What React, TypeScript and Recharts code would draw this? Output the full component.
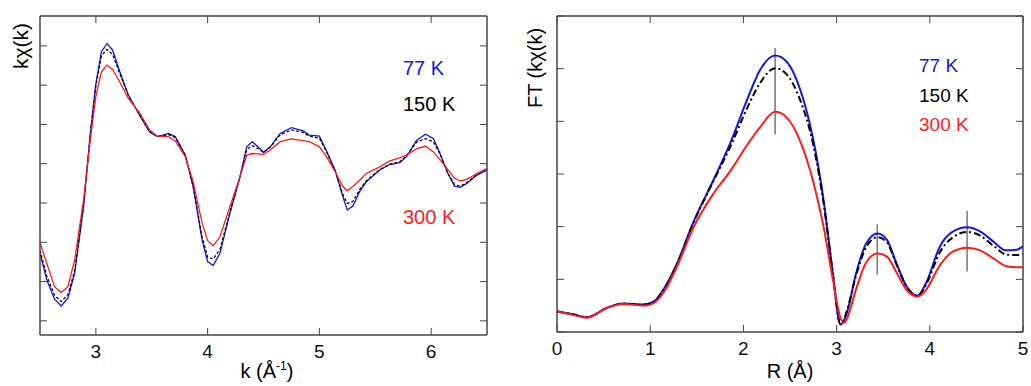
import React from 'react';
import { LineChart, Line, XAxis, YAxis, ReferenceLine } from 'recharts';

// k-space EXAFS, k (1/Å)
const kGrid = [
  2.5, 2.56, 2.63, 2.69, 2.75, 2.81, 2.89, 2.95, 3.0, 3.05, 3.1, 3.15, 3.21, 3.29, 3.39, 3.48, 3.55, 3.65,
  3.71, 3.8, 3.87, 3.95, 4.0, 4.05, 4.11, 4.2, 4.29, 4.35, 4.4, 4.45, 4.5, 4.56, 4.65, 4.75, 4.85, 4.91,
  5.0, 5.06, 5.14, 5.21, 5.25, 5.3, 5.36, 5.42, 5.54, 5.63, 5.72, 5.78, 5.87, 5.95, 6.02, 6.08, 6.15,
  6.21, 6.26, 6.32, 6.41, 6.5,
];
const chi77 = [
  -2.28, -2.95, -3.45, -3.62, -3.42, -2.79, -1.09, 0.77, 2.04, 2.85, 3.06, 2.89, 2.38, 1.75, 1.24, 0.81,
  0.69, 0.77, 0.69, 0.22, -0.58, -1.94, -2.49, -2.59, -2.28, -1.26, -0.33, 0.43, 0.56, 0.43, 0.29, 0.43,
  0.77, 0.92, 0.84, 0.73, 0.7, 0.35, -0.16, -0.84, -1.18, -1.08, -0.71, -0.46, -0.16, -0.02, 0.03, 0.18,
  0.6, 0.75, 0.64, 0.26, -0.25, -0.57, -0.6, -0.5, -0.29, -0.16,
];
const chi150 = [
  -2.2, -2.85, -3.35, -3.51, -3.33, -2.72, -1.05, 0.74, 1.98, 2.75, 2.91, 2.78, 2.32, 1.74, 1.25, 0.82,
  0.69, 0.74, 0.67, 0.21, -0.56, -1.85, -2.38, -2.43, -2.18, -1.22, -0.33, 0.36, 0.46, 0.38, 0.29, 0.42,
  0.74, 0.86, 0.8, 0.7, 0.65, 0.32, -0.17, -0.78, -1.01, -0.96, -0.66, -0.43, -0.15, -0.01, 0.05, 0.2,
  0.55, 0.64, 0.56, 0.24, -0.24, -0.53, -0.57, -0.48, -0.27, -0.15,
];
const chi300 = [
  -2.01, -2.53, -3.13, -3.28, -3.13, -2.45, -0.92, 0.6, 1.72, 2.34, 2.51, 2.4, 2.1, 1.66, 1.3, 0.86,
  0.7, 0.69, 0.58, 0.18, -0.46, -1.5, -1.96, -2.09, -1.86, -1.09, -0.33, 0.22, 0.26, 0.25, 0.24, 0.35,
  0.56, 0.63, 0.59, 0.56, 0.43, 0.2, -0.2, -0.58, -0.69, -0.58, -0.42, -0.25, -0.08, 0.07, 0.15, 0.22,
  0.38, 0.45, 0.3, 0.1, -0.15, -0.37, -0.44, -0.4, -0.25, -0.12,
];
const kTicks = [3, 4, 5, 6];
const chiTicks = [-4, -3, -2, -1, 0, 1, 2, 3];

// Fourier transform magnitude, R (Å)
const rGrid = [
  0, 0.16, 0.32, 0.54, 0.71, 0.93, 1.04, 1.14, 1.29, 1.46, 1.68, 1.86, 2.04, 2.18, 2.34, 2.46, 2.61, 2.75,
  2.86, 2.96, 3.04, 3.08, 3.11, 3.21, 3.32, 3.44, 3.54, 3.64, 3.75, 3.87, 3.96, 4.11, 4.25, 4.4, 4.54,
  4.68, 4.82, 4.93, 5.0,
];
const ft77 = [
  0.39, 0.34, 0.28, 0.46, 0.54, 0.52, 0.58, 0.8, 1.31, 2.07, 2.89, 3.59, 4.41, 4.98, 5.25, 5.14, 4.6,
  3.65, 2.51, 1.12, 0.14, 0.22, 0.36, 1.12, 1.69, 1.87, 1.75, 1.31, 0.87, 0.69, 0.93, 1.63, 1.91, 1.99,
  1.91, 1.72, 1.55, 1.56, 1.63,
];
const ft150 = [
  0.39, 0.34, 0.28, 0.46, 0.54, 0.52, 0.57, 0.79, 1.3, 2.06, 2.87, 3.52, 4.25, 4.73, 5.01, 4.9, 4.4,
  3.55, 2.45, 1.1, 0.16, 0.25, 0.4, 1.08, 1.62, 1.8, 1.7, 1.3, 0.86, 0.69, 0.9, 1.52, 1.8, 1.9, 1.83,
  1.64, 1.47, 1.46, 1.48,
];
const ft300 = [
  0.39, 0.33, 0.27, 0.46, 0.53, 0.5, 0.55, 0.74, 1.25, 1.97, 2.63, 3.06, 3.55, 3.89, 4.18, 4.08, 3.62,
  2.85, 2.0, 1.0, 0.28, 0.17, 0.25, 0.82, 1.33, 1.49, 1.43, 1.14, 0.8, 0.67, 0.8, 1.27, 1.53, 1.6, 1.55,
  1.4, 1.25, 1.23, 1.23,
];
const rTicks = [0, 1, 2, 3, 4, 5];
const ftTicks = [0, 1, 2, 3, 4, 5, 6];
// peak markers: R position, low and high ends
const markerR = [2.34, 3.435, 4.4];
const markerLow = [3.75, 1.09, 1.15];
const markerHigh = [5.39, 2.04, 2.3];

const kData = kGrid.map((k, i) => ({ k, a: chi77[i], b: chi150[i], c: chi300[i] }));
const rData = rGrid.map((r, i) => ({ r, a: ft77[i], b: ft150[i], c: ft300[i] }));

const FONT = '"Liberation Sans", Arial, Helvetica, sans-serif';
const FRAME = '#444';
const BLUE = '#1414e6';
const RED = '#ff1a1a';

const txt = (extra: React.CSSProperties): React.CSSProperties => ({
  position: 'absolute',
  fontFamily: FONT,
  whiteSpace: 'nowrap',
  lineHeight: 1,
  ...extra,
});

// tick marks only, no label text
const EmptyTick = () => <g />;

// labelled bottom axis plus four mirrored axes that draw the box and the inward ticks
const frameAxes = (xKey: string, xDomain: number[], xTicks: number[], yDomain: number[], yTicks: number[]) => [
  <XAxis
    key="xb"
    xAxisId="b"
    dataKey={xKey}
    type="number"
    domain={xDomain}
    ticks={xTicks}
    allowDataOverflow
    orientation="bottom"
    height={40}
    tickLine={false}
    axisLine={false}
    tickSize={6}
    tickMargin={4}
    fontSize={19}
    tick={{ fill: '#111', fontSize: 19, fontFamily: FONT }}
  />,
  <XAxis
    key="xbm"
    xAxisId="bm"
    dataKey={xKey}
    type="number"
    domain={xDomain}
    ticks={xTicks}
    allowDataOverflow
    orientation="bottom"
    mirror
    height={8}
    tickSize={7}
    tick={EmptyTick}
    tickLine={{ stroke: FRAME, strokeWidth: 1 }}
    stroke={FRAME}
    strokeWidth={1.5}
  />,
  <XAxis
    key="xt"
    xAxisId="t"
    dataKey={xKey}
    type="number"
    domain={xDomain}
    ticks={xTicks}
    allowDataOverflow
    orientation="top"
    mirror
    height={8}
    tickSize={7}
    tick={EmptyTick}
    tickLine={{ stroke: FRAME, strokeWidth: 1 }}
    stroke={FRAME}
    strokeWidth={1.5}
  />,
  <YAxis
    key="yl"
    yAxisId="l"
    type="number"
    domain={yDomain}
    ticks={yTicks}
    allowDataOverflow
    orientation="left"
    mirror
    width={8}
    tickSize={7}
    tick={EmptyTick}
    tickLine={{ stroke: FRAME, strokeWidth: 1 }}
    stroke={FRAME}
    strokeWidth={1.5}
  />,
  <YAxis
    key="yr"
    yAxisId="r"
    type="number"
    domain={yDomain}
    ticks={yTicks}
    allowDataOverflow
    orientation="right"
    mirror
    width={8}
    tickSize={7}
    tick={EmptyTick}
    tickLine={{ stroke: FRAME, strokeWidth: 1 }}
    stroke={FRAME}
    strokeWidth={1.5}
  />,
];

const KPanel = () => (
  <LineChart width={500} height={386} data={kData} margin={{ top: 16, right: 13, bottom: 11, left: 40 }}>
    {frameAxes('k', [2.5, 6.5], kTicks, [-4.36, 3.76], chiTicks)}
    <Line xAxisId="bm" yAxisId="r" type="linear" dataKey="a" stroke="none" dot={false} isAnimationActive={false} />
    <Line xAxisId="t" yAxisId="r" type="linear" dataKey="a" stroke="none" dot={false} isAnimationActive={false} />
    <Line xAxisId="b" yAxisId="l" type="linear" dataKey="a" stroke={BLUE} strokeWidth={1.3} dot={false} isAnimationActive={false} />
    <Line xAxisId="b" yAxisId="l" type="linear" dataKey="b" stroke="#000" strokeWidth={1.2} strokeDasharray="3 2" dot={false} isAnimationActive={false} />
    <Line xAxisId="b" yAxisId="l" type="linear" dataKey="c" stroke={RED} strokeWidth={1.3} dot={false} isAnimationActive={false} />
  </LineChart>
);

const RPanel = () => (
  <LineChart width={511} height={386} data={rData} margin={{ top: 16, right: 8, bottom: 14, left: 37 }}>
    {frameAxes('r', [0, 5], rTicks, [0, 6], ftTicks)}
    <Line xAxisId="bm" yAxisId="r" type="linear" dataKey="a" stroke="none" dot={false} isAnimationActive={false} />
    <Line xAxisId="t" yAxisId="r" type="linear" dataKey="a" stroke="none" dot={false} isAnimationActive={false} />
    {markerR.map((r, i) => (
      <ReferenceLine
        key={`m${i}`}
        xAxisId="b"
        yAxisId="l"
        segment={[{ x: r, y: markerLow[i] }, { x: r, y: markerHigh[i] }]}
        stroke="#333"
        strokeWidth={1}
      />
    ))}
    <Line xAxisId="b" yAxisId="l" type="monotone" dataKey="a" stroke={BLUE} strokeWidth={2} dot={false} isAnimationActive={false} />
    <Line xAxisId="b" yAxisId="l" type="monotone" dataKey="b" stroke="#000" strokeWidth={2} strokeDasharray="7 3 2 3" dot={false} isAnimationActive={false} />
    <Line xAxisId="b" yAxisId="l" type="monotone" dataKey="c" stroke={RED} strokeWidth={2} dot={false} isAnimationActive={false} />
  </LineChart>
);

export default function App() {
  return (
    <div style={{ position: 'absolute', left: 0, top: 0, width: 1031, height: 386, background: '#fff', overflow: 'hidden' }}>
      <div style={{ position: 'absolute', left: 0, top: 0 }}>
        <KPanel />
      </div>
      <div style={{ position: 'absolute', left: 520, top: 0 }}>
        <RPanel />
      </div>

      {/* axis titles */}
      <div style={txt({ left: 20, top: 46, fontSize: 21, transform: 'translate(-50%, -50%) rotate(-90deg)' })}>kχ(k)</div>
      <div style={txt({ left: 535, top: 68, fontSize: 20, transform: 'translate(-50%, -50%) rotate(-90deg)' })}>FT (kχ(k)</div>
      <div style={txt({ left: 267, top: 361, fontSize: 20, transform: 'translateX(-50%)' })}>
        k (Å<sup style={{ fontSize: 12, lineHeight: 0 }}>-1</sup>)
      </div>
      <div style={txt({ left: 790, top: 361, fontSize: 20, transform: 'translateX(-50%)' })}>R (Å)</div>

      {/* legends */}
      <div style={txt({ left: 403, top: 58, fontSize: 20, color: BLUE })}>77 K</div>
      <div style={txt({ left: 403, top: 94, fontSize: 20, color: '#000' })}>150 K</div>
      <div style={txt({ left: 403, top: 207, fontSize: 20, color: RED })}>300 K</div>
      <div style={txt({ left: 919, top: 56, fontSize: 19, color: BLUE })}>77 K</div>
      <div style={txt({ left: 919, top: 86, fontSize: 19, color: '#000' })}>150 K</div>
      <div style={txt({ left: 919, top: 115, fontSize: 19, color: RED })}>300 K</div>
    </div>
  );
}
